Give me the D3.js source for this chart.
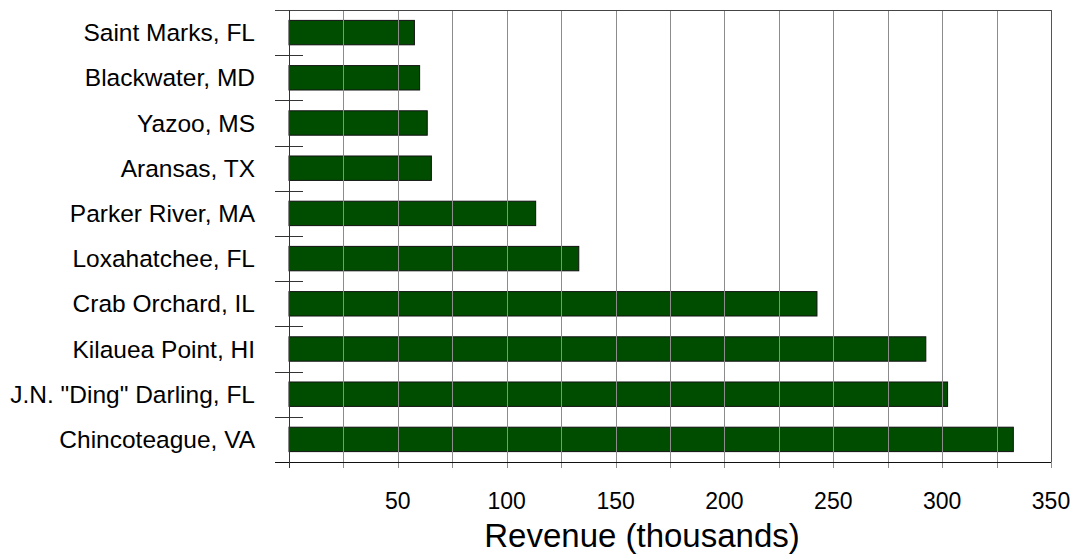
<!DOCTYPE html>
<html><head><meta charset="utf-8">
<script src="https://cdn.jsdelivr.net/npm/d3@7"></script>
<style>body{margin:0;background:#fff}svg{display:block;font-family:"Liberation Sans",Arial,sans-serif}</style>
</head><body><svg id="c" width="1076" height="557"></svg>
<script>
const categories = ["Saint Marks, FL","Blackwater, MD","Yazoo, MS","Aransas, TX","Parker River, MA","Loxahatchee, FL","Crab Orchard, IL","Kilauea Point, HI","J.N. \"Ding\" Darling, FL","Chincoteague, VA"];
const revenue = [57.6, 60.0, 63.5, 65.4, 113.3, 133.1, 242.5, 292.5, 302.5, 332.7];
const gridTicks = [0,25,50,75,100,125,150,175,200,225,250,275,300,325,350];
const labelTicks = [50,100,150,200,250,300,350];
const axisTitle = "Revenue (thousands)";

const svg = d3.select("#c");
const L = 289, R = 1051, T = 10, B = 462;
const x = d3.scaleLinear().domain([0,350]).range([L,R]);
const y = d3.scaleBand().domain(categories).range([T,B]).paddingInner(0.46).paddingOuter(0.23);
const band = d3.scaleBand().domain(categories).range([T,B]);

// bars
svg.append("g").selectAll("rect").data(categories).join("rect")
  .attr("x", x(0)).attr("y", d => y(d))
  .attr("width", (d,i) => x(revenue[i]) - x(0)).attr("height", y.bandwidth())
  .attr("fill", "#004d00").attr("stroke", "#111").attr("stroke-width", 1);

// gridlines over bars
svg.append("g").selectAll("line").data(gridTicks).join("line")
  .attr("x1", d => Math.round(x(d))+0.5).attr("x2", d => Math.round(x(d))+0.5)
  .attr("y1", T).attr("y2", B+6)
  .attr("stroke", "#8c8c8c").attr("stroke-width", 1);

// frame
svg.append("line").attr("x1", 275).attr("x2", R).attr("y1", T+0.5).attr("y2", T+0.5).attr("stroke","#444");
svg.append("line").attr("x1", R+0.5).attr("x2", R+0.5).attr("y1", T).attr("y2", B).attr("stroke","#555");
svg.append("line").attr("x1", 275).attr("x2", R).attr("y1", B+0.5).attr("y2", B+0.5).attr("stroke","#111");
svg.append("line").attr("x1", L+0.5).attr("x2", L+0.5).attr("y1", T).attr("y2", B+6).attr("stroke","#333");

// category boundary ticks
const bounds = categories.slice(1).map(c => band(c));
svg.append("g").selectAll("line").data(bounds).join("line")
  .attr("x1", 275).attr("x2", 303)
  .attr("y1", d => Math.round(d)+0.5).attr("y2", d => Math.round(d)+0.5)
  .attr("stroke", "#333");

// category labels
svg.append("g").selectAll("text").data(categories).join("text")
  .attr("x", 255).attr("y", d => band(d) + band.bandwidth()/2)
  .attr("text-anchor","end").attr("dominant-baseline","central")
  .attr("font-size", 24.5).attr("fill","#000").text(d => d);

// x labels
svg.append("g").selectAll("text").data(labelTicks).join("text")
  .attr("x", d => x(d)).attr("y", 509)
  .attr("text-anchor","middle").attr("font-size", 23).attr("fill","#000").text(d => d);

svg.append("text").attr("x", 642).attr("y", 547).attr("text-anchor","middle")
  .attr("font-size", 33).attr("fill","#000").text(axisTitle);
</script></body></html>
